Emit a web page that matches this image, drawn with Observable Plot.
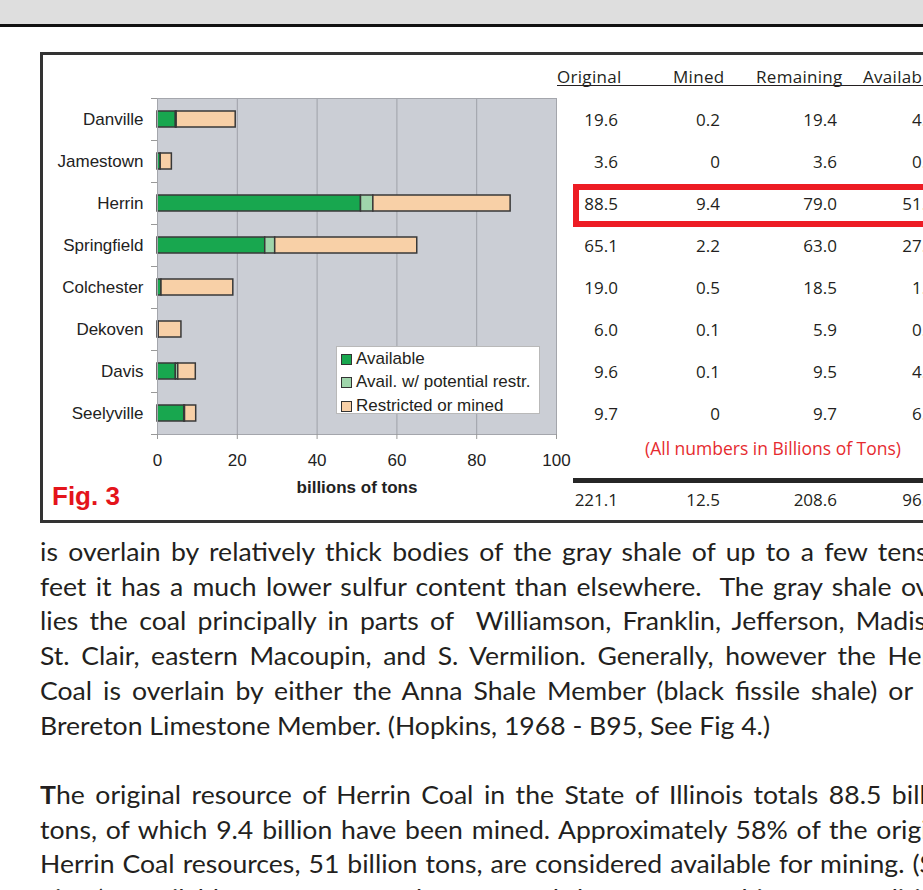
<!DOCTYPE html>
<html>
<head>
<meta charset="utf-8">
<script src="https://cdn.jsdelivr.net/npm/d3@7"></script>
<script src="https://cdn.jsdelivr.net/npm/@observablehq/plot@0.6"></script>
<style>
html, body { margin: 0; padding: 0; background: #fff; }
#page { position: relative; width: 923px; height: 890px; overflow: hidden; font-family: Arial, "Liberation Sans", sans-serif; color: #231f20; }
#topband { position: absolute; left: 0; top: 0; width: 923px; height: 24px; background: #dedede; }
#topline { position: absolute; left: 0; top: 24px; width: 923px; height: 3px; background: #111; }
#box { position: absolute; left: 40px; top: 52px; width: 940px; height: 471px; border: 3px solid #333; border-right: none; box-sizing: border-box; }
#chart { position: absolute; left: 0; top: 0; }
#page svg [aria-label="x-axis label"] { font-weight: bold; }
.legend { position: absolute; left: 336px; top: 346px; width: 204px; height: 68px; background: #fff; border: 1px solid #b9b9b9; box-sizing: border-box; font-size: 17px; }
.legend .item { position: absolute; left: 4px; height: 20px; line-height: 20px; white-space: nowrap; }
.legend .sw { display: inline-block; width: 11px; height: 11px; border: 1.5px solid #333; box-sizing: border-box; margin-right: 4px; vertical-align: -1px; }
.tcell { position: absolute; font-family: "Open Sans", sans-serif; font-size: 17px; line-height: 20px; white-space: nowrap; color: #231f20; }
.thead { letter-spacing: 0.3px; }
.fig { position: absolute; left: 52px; top: 481px; font: bold 26px Arial, "Liberation Sans", sans-serif; color: #e4141b; line-height: 30px; }
.note { position: absolute; left: 645px; top: 436px; font-family: "Open Sans", sans-serif; font-size: 17.5px; line-height: 24px; color: #e62b2f; white-space: nowrap; }
.para { position: absolute; left: 40px; white-space: nowrap; font-family: Lato, sans-serif; font-size: 25px; line-height: 34px; color: #231f20; transform-origin: 0 50%; }
</style>
</head>
<body>
<div id="page">
  <div id="topband"></div>
  <div id="topline"></div>
  <div id="box"></div>
</div>
<script>
// ---- data ----
const categories = ["Danville", "Jamestown", "Herrin", "Springfield", "Colchester", "Dekoven", "Davis", "Seelyville"];
const types = ["Available", "Avail. w/ potential restr.", "Restricted or mined"];
const available = [4.6, 0.8, 51.0, 27.0, 1.0, 0.3, 4.6, 6.7];
const potential = [0.2, 0, 3.1, 2.5, 0, 0, 0.6, 0.2];
const original = [19.6, 3.6, 88.5, 65.1, 19.0, 6.0, 9.6, 9.7];
const mined = [0.2, 0, 9.4, 2.2, 0.5, 0.1, 0.1, 0];
const remaining = [19.4, 3.6, 79.0, 63.0, 18.5, 5.9, 9.5, 9.7];
const columns = ["Original", "Mined", "Remaining", "Available"];
const xTicks = [0, 20, 40, 60, 80, 100];
const colors = ["#18a74f", "#9fd5ab", "#f8d0a7"];
const highlight = "Herrin";
const paragraph = [
  "is overlain by relatively thick bodies of the gray shale of up to a few tens of",
  "feet it has a much lower sulfur content than elsewhere.  The gray shale over-",
  "lies the coal principally in parts of  Williamson, Franklin, Jefferson, Madison,",
  "St. Clair, eastern Macoupin, and S. Vermilion. Generally, however the Herrin",
  "Coal is overlain by either the Anna Shale Member (black fissile shale) or the",
  "Brereton Limestone Member. (Hopkins, 1968 - B95, See Fig 4.)",
  "",
  "The original resource of Herrin Coal in the State of Illinois totals 88.5 billion",
  "tons, of which 9.4 billion have been mined. Approximately 58% of the original",
  "Herrin Coal resources, 51 billion tons, are considered available for mining. (See",
  "Fig 3).  Available resources are those of coal that are not subject to conditions"
];
const lastLines = [5, 6];

// ---- chart ----
const rows = categories.flatMap((name, i) => [
  {name, type: types[0], value: available[i]},
  {name, type: types[1], value: potential[i]},
  {name, type: types[2], value: +(original[i] - available[i] - potential[i]).toFixed(2)}
]);

const W = 600, H = 515, mL = 157, mR = 44, mT = 98, mB = 81;
const step = (H - mB - mT) / categories.length;

const chart = Plot.plot({
  width: W, height: H,
  marginLeft: mL, marginRight: mR, marginTop: mT, marginBottom: mB,
  style: {background: "transparent", fontFamily: "Arial, 'Liberation Sans', sans-serif", fontSize: "17px", color: "#222", overflow: "visible"},
  x: {domain: [0, 100]},
  y: {domain: categories, paddingInner: 0.62, paddingOuter: 0.31},
  color: {domain: types, range: colors},
  marks: [
    Plot.frame({fill: "#cbced5"}),
    Plot.gridX(xTicks.slice(1, -1), {stroke: "#9ea1a8", strokeOpacity: 1}),
    Plot.barX(rows, {x: "value", y: "name", fill: "type", stroke: "#383838", strokeWidth: 1.5}),
    Plot.frame({stroke: "#a4a6ac"}),
    Plot.axisX({ticks: xTicks, tickSize: 5, tickPadding: 14, stroke: "#999", label: "billions of tons", labelAnchor: "center", labelOffset: 58, labelArrow: "none"}),
    Plot.axisY({tickSize: 0, tickPadding: 14, label: null}),
    Plot.axisY({tickSize: 6, tickFormat: () => "", dy: -step / 2, stroke: "#999", label: null}),
    Plot.axisY({ticks: [categories[categories.length - 1]], tickSize: 6, tickFormat: () => "", dy: step / 2, stroke: "#999", label: null})
  ]
});
chart.id = "chart";
const page = document.getElementById("page");
page.appendChild(chart);

const ys = chart.scale("y");
const rowCenter = name => ys.apply(name) + ys.bandwidth / 2;

// ---- legend (inside plot) ----
const legend = document.createElement("div");
legend.className = "legend";
types.forEach((t, i) => {
  const it = document.createElement("div");
  it.className = "item";
  it.style.top = (2 + i * 23.3) + "px";
  it.innerHTML = `<span class="sw" style="background:${colors[i]}"></span>${t}`;
  legend.appendChild(it);
});
page.appendChild(legend);

// ---- Fig. 3 ----
const fig = document.createElement("div");
fig.className = "fig";
fig.textContent = "Fig. 3";
page.appendChild(fig);

// ---- table ----
const fmt = v => v === 0 ? "0" : v.toFixed(1);
const colRight = [618, 720, 837, 936];
const headLeft = [557, 673, 756, 863];
function cell(text, right, cy) {
  const d = document.createElement("div");
  d.className = "tcell";
  d.textContent = text;
  d.style.right = (923 - right) + "px";
  d.style.top = (cy - 10) + "px";
  page.appendChild(d);
  return d;
}
columns.forEach((c, j) => {
  const d = document.createElement("div");
  d.className = "tcell thead";
  d.textContent = c;
  d.style.left = headLeft[j] + "px";
  d.style.top = "67px";
  page.appendChild(d);
});
const ul = document.createElement("div");
Object.assign(ul.style, {position: "absolute", left: "557px", top: "85px", width: "400px", height: "1px", background: "#231f20"});
page.appendChild(ul);

const tableCols = [original, mined, remaining, available];
categories.forEach((name, i) => {
  const cy = rowCenter(name);
  tableCols.forEach((arr, j) => cell(fmt(arr[i]), colRight[j], cy + 1));
});
const hb = document.createElement("div");
const hc = rowCenter(highlight);
Object.assign(hb.style, {position: "absolute", left: "573px", top: (hc - 19) + "px", width: "420px", height: "43px", border: "6px solid #ed1c24", boxSizing: "border-box"});
page.appendChild(hb);

const note = document.createElement("div");
note.className = "note";
note.textContent = "(All numbers in Billions of Tons)";
page.appendChild(note);

const dl = document.createElement("div");
Object.assign(dl.style, {position: "absolute", left: "573px", top: "478px", width: "420px", height: "5px", background: "#262626"});
page.appendChild(dl);
tableCols.forEach((arr, j) => cell(d3.sum(arr).toFixed(1), colRight[j], 500));

// ---- paragraph ----
const lines = paragraph.map((t, i) => {
  const d = document.createElement("div");
  d.className = "para";
  d.style.top = (551 + i * 34.7 - 17) + "px";
  const txt = t.replace(/  /g, "\u00a0 ");
  if (i === 7) { d.innerHTML = "<b>T</b>"; d.appendChild(document.createTextNode(txt.slice(1))); }
  else d.textContent = txt;
  page.appendChild(d);
  return d;
});
const ref = lines[5].getBoundingClientRect().width;
const k = 730 / ref;
const colWidth = (962 - 40) / k;
lines.forEach((d, i) => {
  d.style.transform = `scaleX(${k})`;
  if (!lastLines.includes(i)) {
    d.style.width = colWidth + "px";
    d.style.textAlign = "justify";
    d.style.textAlignLast = "justify";
  }
});
</script>
</body>
</html>
